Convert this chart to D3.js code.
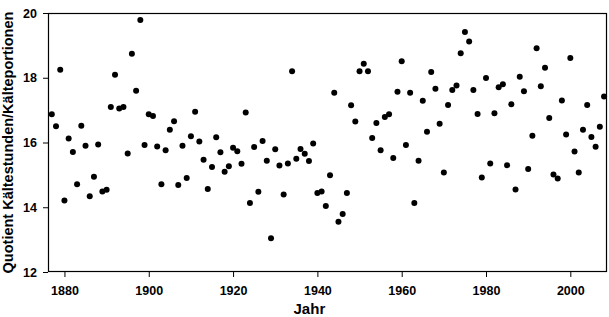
<!DOCTYPE html>
<html>
<head>
<meta charset="utf-8">
<script src="https://cdn.jsdelivr.net/npm/d3@7"></script>
<style>
  body { margin: 0; background: #fff; }
  svg { display: block; font-family: "Liberation Sans", Arial, sans-serif; }
  .tick text { font-size: 12.5px; font-weight: bold; fill: #000; }
</style>
</head>
<body>
<svg width="609" height="317"></svg>
<script>
const years = [
  1877, 1878, 1879, 1880, 1881, 1882, 1883, 1884, 1885, 1886, 1887, 1888, 1889, 1890,
  1891, 1892, 1893, 1894, 1895, 1896, 1897, 1898, 1899, 1900, 1901, 1902, 1903, 1904,
  1905, 1906, 1907, 1908, 1909, 1910, 1911, 1912, 1913, 1914, 1915, 1916, 1917, 1918,
  1919, 1920, 1921, 1922, 1923, 1924, 1925, 1926, 1927, 1928, 1929, 1930, 1931, 1932,
  1933, 1934, 1935, 1936, 1937, 1938, 1939, 1940, 1941, 1942, 1943, 1944, 1945, 1946,
  1947, 1948, 1949, 1950, 1951, 1952, 1953, 1954, 1955, 1956, 1957, 1958, 1959, 1960,
  1961, 1962, 1963, 1964, 1965, 1966, 1967, 1968, 1969, 1970, 1971, 1972, 1973, 1974,
  1975, 1976, 1977, 1978, 1979, 1980, 1981, 1982, 1983, 1984, 1985, 1986, 1987, 1988,
  1989, 1990, 1991, 1992, 1993, 1994, 1995, 1996, 1997, 1998, 1999, 2000, 2001, 2002,
  2003, 2004, 2005, 2006, 2007, 2008
];

const quotient = [
  16.87, 16.50, 18.25, 14.21, 16.12, 15.71, 14.71, 16.52, 15.90, 14.34, 14.94, 15.94, 14.49, 14.54,
  17.10, 18.09, 17.05, 17.10, 15.66, 18.74, 17.60, 19.78, 15.92, 16.87, 16.82, 15.88, 14.71, 15.76,
  16.39, 16.66, 14.69, 15.90, 14.90, 16.19, 16.95, 16.03, 15.47, 14.56, 15.24, 16.16, 15.70, 15.10,
  15.27, 15.84, 15.73, 15.34, 16.93, 14.13, 15.86, 14.48, 16.05, 15.44, 13.04, 15.79, 15.29, 14.39,
  15.35, 18.20, 15.50, 15.80, 15.65, 15.43, 15.97, 14.44, 14.49, 14.04, 14.99, 17.54, 13.55, 13.79,
  14.44, 17.15, 16.65, 18.20, 18.43, 18.20, 16.14, 16.60, 15.76, 16.79, 16.87, 15.52, 17.57, 18.51,
  15.92, 17.54, 14.13, 15.44, 17.29, 16.33, 18.18, 17.66, 16.58, 15.07, 17.16, 17.62, 17.76, 18.76,
  19.41, 19.12, 17.62, 16.88, 14.92, 17.99, 15.35, 16.90, 17.71, 17.80, 15.30, 17.18, 14.55, 18.03,
  17.58, 15.18, 16.21, 18.91, 17.74, 18.31, 16.76, 15.01, 14.89, 17.30, 16.25, 18.61, 15.72, 15.07,
  16.39, 17.16, 16.17, 15.87, 16.49, 17.42
];

const xTicks = [1880, 1900, 1920, 1940, 1960, 1980, 2000];
const yTicks = [12, 14, 16, 18, 20];

// chart size
const margin = { top: 13, right: 2, bottom: 45, left: 48 };
const width = 609 - margin.left - margin.right;
const height = 317 - margin.top - margin.bottom;

const svg = d3.select("svg");

const chart = svg.append("g")
  .attr("transform", `translate(${margin.left}, ${margin.top})`);

const x = d3.scaleLinear()
  .domain([1876.1, 2008.7])
  .range([0, width]);

const y = d3.scaleLinear()
  .domain([12, 20])
  .range([height, 0]);

// axes
const xAxis = d3.axisBottom(x)
  .tickValues(xTicks)
  .tickFormat(d3.format("d"))
  .tickSizeInner(5)
  .tickSizeOuter(0)
  .tickPadding(9);

const yAxis = d3.axisLeft(y)
  .tickValues(yTicks)
  .tickSizeInner(5)
  .tickSizeOuter(0)
  .tickPadding(6);

chart.append("g")
  .attr("transform", `translate(0, ${height})`)
  .call(xAxis)
  .call(g => g.select(".domain").remove());

chart.append("g")
  .call(yAxis)
  .call(g => g.select(".domain").remove());

// frame round the plot
chart.append("rect")
  .attr("x", 0.5)
  .attr("y", 0.5)
  .attr("width", width - 1)
  .attr("height", height - 1)
  .attr("fill", "none")
  .attr("stroke", "#000")
  .attr("stroke-width", 1.2);

// axis titles
chart.append("text")
  .attr("text-anchor", "middle")
  .attr("x", x(1940) - 8)
  .attr("y", height + 42)
  .style("font-size", "15px")
  .style("font-weight", "bold")
  .text("Jahr");

chart.append("text")
  .attr("text-anchor", "middle")
  .attr("transform", `translate(${-margin.left + 13}, ${height / 2}) rotate(-90)`)
  .style("font-size", "14.5px")
  .style("font-weight", "bold")
  .text("Quotient Kältestunden/Kälteportionen");

// points
chart.selectAll(".dot")
  .data(quotient)
  .enter()
  .append("circle")
  .attr("class", "dot")
  .attr("cx", (d, i) => x(years[i]))
  .attr("cy", d => y(d))
  .attr("r", 3)
  .attr("fill", "#000");
</script>
</body>
</html>
